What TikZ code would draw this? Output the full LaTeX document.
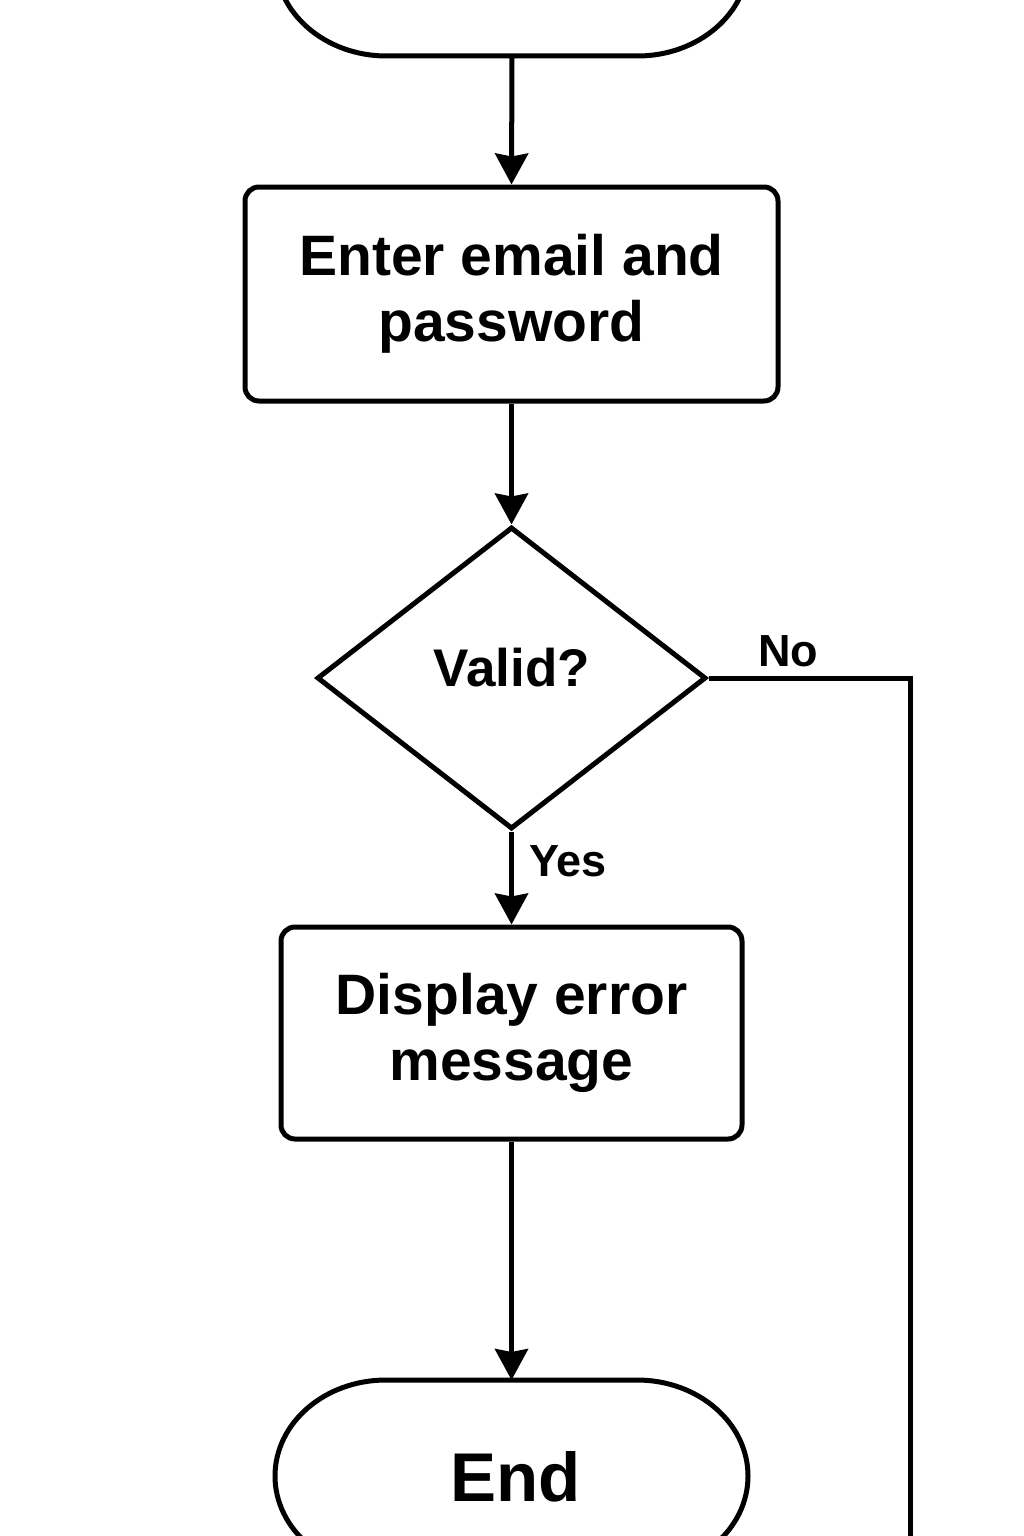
\documentclass[tikz,border=0pt]{standalone}
\usepackage{fontspec}
\setmainfont{Liberation Sans}
\usetikzlibrary{shapes.geometric,arrows.meta,calc}
\begin{document}
\begin{tikzpicture}[x=1pt,y=1pt,
  line width=5pt,
  txt/.style={font=\fontsize{57}{66}\selectfont\bfseries, align=center, inner sep=0pt},
  procbox/.style={draw, rounded corners=14pt, inner sep=0pt, txt},
  term/.style={rectangle, draw=none, minimum width=473pt, minimum height=192pt, inner sep=0pt, outer sep=0pt},
  dec/.style={diamond, draw, minimum width=389pt, minimum height=302pt, inner sep=0pt, line join=miter},
  lbl/.style={font=\fontsize{45}{47}\selectfont\bfseries, inner sep=0pt},
  arr/.style={-{Stealth[length=31pt,width=33pt,inset=3pt]}},
  conn/.style={line join=miter}
]
\useasboundingbox (0,0) rectangle (1024,-1536);
\clip (0,0) rectangle (1024,-1536);
\fill[white] (0,0) rectangle (1024,-1536);

% nodes
\node[term] (start) at (512,40) {};
\node[procbox, minimum width=533pt, minimum height=214pt] (enter) at (511.5,-294) {Enter email and\\password};
\node[dec] (valid) at (511.5,-678) {};
\node[txt, font=\fontsize{53}{55}\selectfont\bfseries] (validtxt) at (512,-668) {Valid?};
\node[procbox, minimum width=461pt, minimum height=212pt] (disp) at (511.5,-1033) {Display error\\message};
\node[term, font=\fontsize{69}{70}\selectfont\bfseries, text depth=0pt] (end) at (511.5,-1476) {\hspace*{8pt}End};

% terminal outlines
\foreach \n in {start,end}{
  \draw ($(\n.north west)+(111,0)$) -- ($(\n.north east)+(-111,0)$)
    arc[start angle=90,end angle=-90,x radius=111,y radius=96]
    -- ($(\n.south west)+(111,0)$)
    arc[start angle=270,end angle=90,x radius=111,y radius=96] -- cycle;
}

% labels
\node[lbl] (no) at (788,-651) {No};
\node[lbl] (yes) at (568,-861) {Yes};

% connectors
\coordinate (corner) at (910,-678);
\coordinate (down) at (910,-1600);
\draw[arr] (start.south) -- (enter.north);
\draw[arr] (enter.south) -- (valid.north);
\draw[arr] (valid.south) -- (disp.north);
\draw[arr] (disp.south) -- (end.north);
\draw[conn] (valid.east) -- (corner) -- (down);
\end{tikzpicture}
\end{document}
